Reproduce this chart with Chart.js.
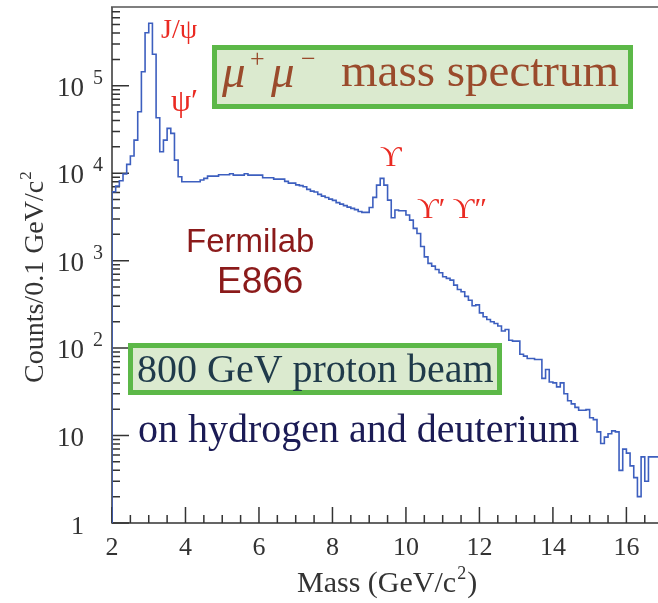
<!DOCTYPE html>
<html><head><meta charset="utf-8">
<script src="https://cdn.jsdelivr.net/npm/chart.js@4.4.1/dist/chart.umd.min.js"></script>
<style>html,body{margin:0;padding:0;background:#fff;}canvas{display:block;}</style>
</head><body>
<canvas id="c" width="658" height="603"></canvas>
<script>
// ---- data ----
const binLow = 2.0;          // GeV/c^2, lower edge of first bin
const binWidth = 0.1;        // GeV/c^2
const counts = [
  4830, 6120, 7120, 8180, 9770, 12600, 15700, 23900, 50400, 144500,
  404000, 518000, 228600, 43000, 17600, 23900, 32500, 28500, 14100, 9100,
  7980, 7980, 7980, 7980, 7980, 8340, 8710, 9260, 9260, 9260,
  9590, 9590, 9590, 9840, 9510, 9510, 9510, 9840, 9510, 9510,
  9510, 9510, 8860, 8860, 8860, 8550, 8550, 8550, 8050, 7700,
  7700, 7350, 7200, 6990, 6530, 6240, 6080, 5720, 5470, 5260,
  5050, 4880, 4610, 4430, 4260, 4090, 3960, 3830, 3650, 3560,
  3560, 4050, 5290, 7300, 8720, 7300, 4920, 3090, 3790, 3720,
  3720, 3320, 2905, 2335, 2045, 1450, 1105, 929, 865, 793,
  726, 653, 626, 598, 525, 468, 440, 390, 353, 305,
  312, 253, 228, 212, 200, 191, 179, 157, 163, 123,
  120, 120, 85, 81, 76, 76, 74, 74, 45, 57,
  41, 40, 36, 40, 30, 25, 23, 21, 19.5, 19.5,
  19.8, 16, 15.2, 11, 8.1, 9.6, 10.5, 11.3, 11, 4,
  7, 6.3, 4.5, 3.3, 2, 5.7, 3, 5.7, 5.7
];
const xTickLabels = [2, 4, 6, 8, 10, 12, 14, 16];
const yTickExponents = [0, 1, 2, 3, 4, 5];
const xTitle = "Mass (GeV/c";
const yTitle = "Counts/0.1 GeV/c";

// histogram outline: start at the axis floor, then step through bin edges
const histPoints = [{x: binLow, y: 1}];
counts.forEach((v, i) => histPoints.push({x: +(binLow + i * binWidth).toFixed(2), y: v}));
histPoints.push({x: +(binLow + counts.length * binWidth).toFixed(2), y: counts[counts.length - 1]});

const SERIF = '"Liberation Serif","Times New Roman","DejaVu Serif",serif';
const SANS = '"Liberation Sans",Arial,sans-serif';

function txt(ctx, s, x, y, font, color, align) {
  ctx.font = font; ctx.fillStyle = color; ctx.textAlign = align || 'left';
  ctx.textBaseline = 'alphabetic'; ctx.fillText(s, x, y);
  return ctx.measureText(s).width;
}

const decor = {
  id: 'decor',
  beforeDatasetsDraw(chart) {
    const ctx = chart.ctx, a = chart.chartArea;
    const xs = chart.scales.x, ys = chart.scales.y;
    ctx.save();
    ctx.strokeStyle = '#333'; ctx.lineWidth = 1.5;
    ctx.beginPath();
    ctx.moveTo(a.left, a.top); ctx.lineTo(a.left, a.bottom); ctx.lineTo(a.right, a.bottom);
    ctx.stroke();
    ctx.strokeStyle = '#555';
    ctx.beginPath(); ctx.moveTo(a.left - 1, a.top); ctx.lineTo(a.right, a.top); ctx.stroke();
    ctx.strokeStyle = '#333';
    ctx.beginPath();
    for (let v = 2; v <= xs.max + 1e-9; v += 0.5) {
      const px = xs.getPixelForValue(v);
      const major = Math.abs(v / 2 - Math.round(v / 2)) < 1e-9;
      ctx.moveTo(px, a.bottom); ctx.lineTo(px, a.bottom - (major ? 16 : 8));
    }
    for (let d = 0; d <= 5; d++) {
      for (let m = 1; m <= 9; m++) {
        const v = m * Math.pow(10, d);
        if (v > ys.max) break;
        const py = ys.getPixelForValue(v);
        ctx.moveTo(a.left, py); ctx.lineTo(a.left + (m === 1 ? 17 : 8), py);
      }
    }
    ctx.stroke();
    ctx.restore();
  },
  afterDatasetsDraw(chart) {
    const ctx = chart.ctx;
    const xs = chart.scales.x, ys = chart.scales.y;
    ctx.save();
    xTickLabels.forEach(v => txt(ctx, String(v), xs.getPixelForValue(v), 555, '26px ' + SERIF, '#333', 'center'));
    yTickExponents.forEach(e => {
      const py = ys.getPixelForValue(Math.pow(10, e));
      if (e === 0) txt(ctx, '1', 84, py + 11, '26px ' + SERIF, '#333', 'right');
      else {
        txt(ctx, '10', 84, py + 10, '27px ' + SERIF, '#333', 'right');
        if (e > 1) txt(ctx, String(e), 93, py - 2, '20px ' + SERIF, '#333', 'left');
      }
    });
    let w = txt(ctx, xTitle, 297, 592, '30px ' + SERIF, '#333');
    w += txt(ctx, '2', 297 + w + 1, 579, '18px ' + SERIF, '#333') + 2;
    txt(ctx, ')', 297 + w, 592, '30px ' + SERIF, '#333');
    ctx.save();
    ctx.translate(43, 383); ctx.rotate(-Math.PI / 2);
    const wy = txt(ctx, yTitle, 0, 0, '28px ' + SERIF, '#333');
    txt(ctx, '2', wy + 1, -12, '17px ' + SERIF, '#333');
    ctx.restore();

    const red = '#ea2a22';
    txt(ctx, 'J/\u03C8', 161, 38, '28px ' + SERIF, red);
    txt(ctx, '\u03C8\u2032', 171, 111, '32px ' + SERIF, red);
    txt(ctx, '\u03D2', 380, 166, '30px ' + SERIF, red);
    txt(ctx, '\u03D2\u2032 \u03D2\u2033', 417, 218, '30px ' + SERIF, red);

    ctx.fillStyle = '#dbeacf'; ctx.fillRect(214.5, 47.5, 416, 59);
    ctx.strokeStyle = '#5cb848'; ctx.lineWidth = 5; ctx.strokeRect(214.5, 47.5, 416, 59);
    const brown = '#9a4b2c';
    txt(ctx, '\u03BC', 222, 87, 'italic 47px ' + SERIF, brown);
    txt(ctx, '+', 250, 67, '26px ' + SERIF, brown);
    txt(ctx, '\u03BC', 271, 87, 'italic 47px ' + SERIF, brown);
    txt(ctx, '\u2212', 301, 67, '26px ' + SERIF, brown);
    txt(ctx, 'mass spectrum', 341, 86, '47px ' + SERIF, brown);

    txt(ctx, 'Fermilab', 186, 252, '33px ' + SANS, '#8b1a1a');
    txt(ctx, 'E866', 217, 293, '37px ' + SANS, '#8b1a1a');

    ctx.fillStyle = '#dbeacf'; ctx.fillRect(130.5, 345.5, 369, 47);
    ctx.strokeStyle = '#5cb848'; ctx.lineWidth = 5; ctx.strokeRect(130.5, 345.5, 369, 47);
    txt(ctx, '800 GeV proton beam', 137, 382, '40px ' + SERIF, '#1f3a4a');
    txt(ctx, 'on hydrogen and deuterium', 138, 442, '40px ' + SERIF, '#1b1b55');
    ctx.restore();
  }
};

new Chart(document.getElementById('c'), {
  type: 'line',
  data: {
    datasets: [{
      data: histPoints,
      stepped: 'after',
      borderColor: '#3d5fbf',
      borderWidth: 1.6,
      pointRadius: 0,
      fill: false,
      tension: 0
    }]
  },
  options: {
    responsive: false,
    devicePixelRatio: 1,
    animation: false,
    layout: {padding: {left: 112, right: 0, top: 7, bottom: 80}},
    plugins: {legend: {display: false}, tooltip: {enabled: false}},
    scales: {
      x: {type: 'linear', display: false, min: 2, max: 16.86},
      y: {type: 'logarithmic', display: false, min: 1, max: Math.pow(10, 5.9)}
    }
  },
  plugins: [decor]
});
</script>
</body></html>
